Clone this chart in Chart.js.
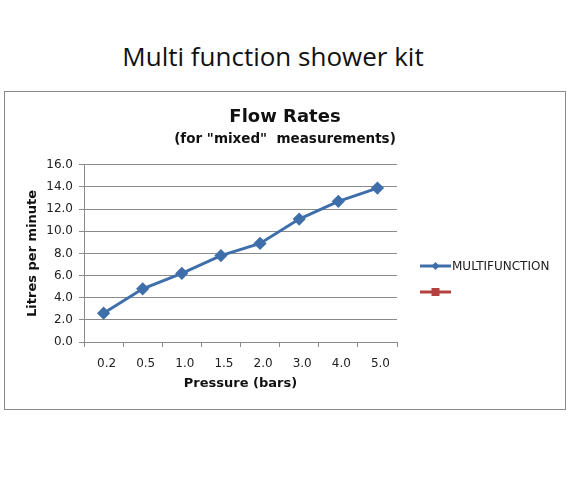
<!DOCTYPE html>
<html>
<head>
<meta charset="utf-8">
<script src="https://cdn.jsdelivr.net/npm/chart.js@4"></script>
<style>
  body { margin: 0; background: #fff; }
  #pageTitle {
    position: absolute; left: 0; top: 40px; width: 546px;
    text-align: center; font: 26px "Open Sans", sans-serif; color: #111;
    line-height: 32px;
  }
  #box {
    position: absolute; left: 4px; top: 91px; width: 560px; height: 317px;
    border: 1px solid #8a8a8a;
  }
</style>
</head>
<body>
<div id="pageTitle">Multi function shower kit</div>
<div id="box"><canvas id="flowChart" width="560" height="317"></canvas></div>
<script>
const pressures = ["0.2", "0.5", "1.0", "1.5", "2.0", "3.0", "4.0", "5.0"];
const multiFunction = [2.6, 4.8, 6.2, 7.8, 8.9, 11.1, 12.7, 13.9];
const otherSeries = [];
const seriesNames = ["MULTIFUNCTION", ""];
const yTicks = [0, 2, 4, 6, 8, 10, 12, 14, 16];

const FONT = "'DejaVu Sans', Verdana, sans-serif";

// legend drawn like Excel: line with marker, then label
const lineLegend = {
  id: "lineLegend",
  afterDraw(chart) {
    const ctx = chart.ctx;
    chart.data.datasets.forEach((ds, i) => {
      const y = 174 + i * 26;
      const x0 = 415, x1 = 446, xm = (x0 + x1) / 2;
      ctx.save();
      ctx.strokeStyle = ds.borderColor;
      ctx.lineWidth = 3;
      ctx.beginPath();
      ctx.moveTo(x0, y);
      ctx.lineTo(x1, y);
      ctx.stroke();
      ctx.fillStyle = ds.pointBackgroundColor;
      if (ds.pointStyle === "rectRot") {
        ctx.beginPath();
        ctx.moveTo(xm, y - 4);
        ctx.lineTo(xm + 4, y);
        ctx.lineTo(xm, y + 4);
        ctx.lineTo(xm - 4, y);
        ctx.closePath();
        ctx.fill();
      } else {
        ctx.fillRect(xm - 4, y - 4, 8, 8);
      }
      ctx.fillStyle = "#222";
      ctx.font = "12px " + FONT;
      ctx.textBaseline = "middle";
      ctx.fillText(ds.label, x1 + 1, y + 1);
      ctx.restore();
    });
  }
};

new Chart(document.getElementById("flowChart"), {
  type: "line",
  data: {
    labels: pressures,
    datasets: [{
      label: seriesNames[0],
      data: multiFunction,
      borderColor: "#3f6faa",
      backgroundColor: "#3f6faa",
      pointBackgroundColor: "#3f6faa",
      borderWidth: 3,
      pointStyle: "rectRot",
      pointRadius: 4.5,
      fill: false
    }, {
      label: seriesNames[1],
      data: otherSeries,
      borderColor: "#b5413e",
      backgroundColor: "#b5413e",
      pointBackgroundColor: "#b5413e",
      borderWidth: 3,
      pointStyle: "rect",
      pointRadius: 4,
      fill: false
    }]
  },
  options: {
    responsive: false,
    animation: false,
    layout: { padding: 0 },
    plugins: {
      legend: { display: false },
      tooltip: { enabled: false },
      title: {
        display: true,
        text: "Flow Rates",
        color: "#111",
        font: { family: FONT, size: 18, weight: "bold" },
        padding: { top: 15, bottom: 2 }
      },
      subtitle: {
        display: true,
        text: '(for "mixed"  measurements)',
        color: "#111",
        font: { family: FONT, size: 13.5, weight: "bold" },
        padding: { top: 1, bottom: 17 }
      }
    },
    scales: {
      x: {
        offset: true,
        afterFit: s => { s.height = 67; },
        grid: { offset: true, drawOnChartArea: false, tickLength: 5, color: "#8a8a8a" },
        border: { color: "#8a8a8a" },
        ticks: { color: "#222", padding: 10, labelOffset: 3, font: { family: FONT, size: 12 } },
        title: {
          display: true,
          text: "Pressure (bars)",
          color: "#111",
          font: { family: FONT, size: 13, weight: "bold" },
          padding: { top: 0, bottom: 18 }
        }
      },
      y: {
        min: 0,
        max: 16,
        afterFit: s => { s.width = 79; },
        afterBuildTicks: s => { s.ticks = yTicks.map(v => ({ value: v })); },
        grid: { color: "#8a8a8a", tickLength: 5 },
        border: { color: "#8a8a8a" },
        ticks: {
          color: "#222",
          padding: 6,
          font: { family: FONT, size: 12 },
          callback: v => v.toFixed(1)
        },
        title: {
          display: true,
          text: "Litres per minute",
          color: "#111",
          font: { family: FONT, size: 13, weight: "bold" },
          padding: { top: 20, bottom: 0 }
        }
      },
      // empty box on the right that keeps room for the legend
      legendSpace: {
        type: "linear",
        position: "right",
        afterFit: s => { s.width = 168; },
        grid: { display: false },
        border: { display: false },
        ticks: { display: false }
      }
    }
  },
  plugins: [lineLegend]
});
</script>
</body>
</html>
